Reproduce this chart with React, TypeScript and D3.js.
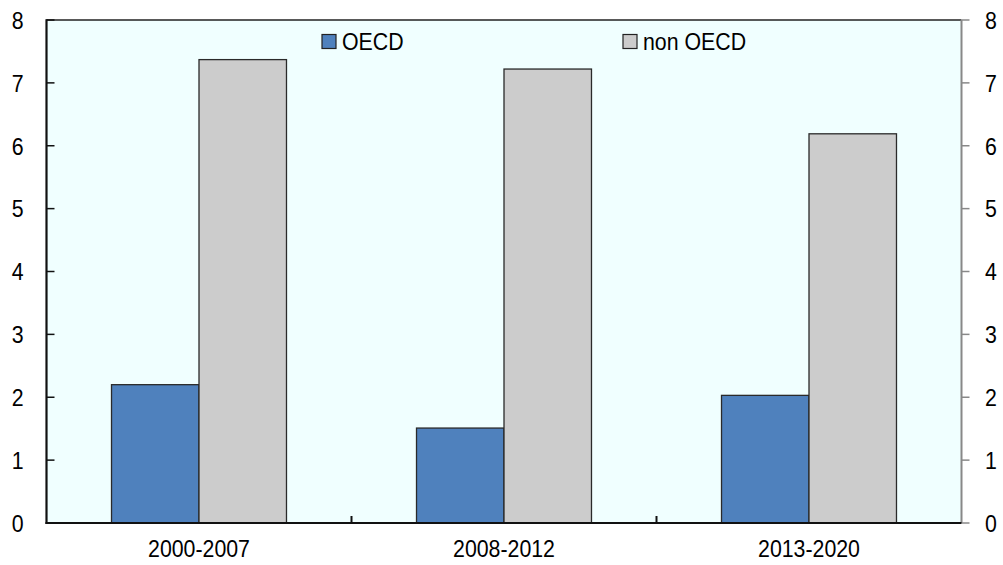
import React from "react";
import * as d3 from "d3";

const categories = ["2000-2007", "2008-2012", "2013-2020"];
const seriesNames = ["OECD", "non OECD"];
const oecd = [2.2, 1.51, 2.03];
const nonOecd = [7.37, 7.22, 6.19];
const yTicks = [0, 1, 2, 3, 4, 5, 6, 7, 8];
const colors = ["#4F81BD", "#CCCCCC"];

const W = 1003;
const H = 565;
const L = 46.5;
const R = 961.5;
const T = 20;
const B = 523;
const FS = 24.5;
const SX = 0.87;
const FONT = "'Liberation Sans', Arial, sans-serif";

export default function App() {
  const x0 = d3.scaleBand<string>().domain(categories).range([L, R]).paddingInner(0).paddingOuter(0);
  const x1 = d3
    .scaleBand<string>()
    .domain(seriesNames)
    .range([0, x0.bandwidth()])
    .paddingInner(0)
    .paddingOuter(0.743);
  const y = d3.scaleLinear().domain([0, 8]).range([B, T]);
  const values = [oecd, nonOecd];

  const legendX = [322, 623];

  const txt = (x: number, yy: number, s: string, anchor: string, key?: string) => (
    <text
      key={key}
      transform={`translate(${x},${yy}) scale(${SX},1)`}
      textAnchor={anchor as any}
      fontSize={FS}
      fontFamily={FONT}
      fill="#000"
    >
      {s}
    </text>
  );

  return (
    <div style={{ position: "fixed", left: 0, top: 0 }}>
      <svg width={W} height={H} style={{ display: "block", background: "#fff" }}>
        <rect x={L} y={T} width={R - L} height={B - T} fill="#F0FFFF" />
        {categories.map((c, ci) =>
          seriesNames.map((s, si) => {
            const v = values[si][ci];
            const bx = (x0(c) as number) + (x1(s) as number);
            return (
              <rect
                key={c + s}
                x={bx}
                y={y(v)}
                width={x1.bandwidth()}
                height={B - y(v)}
                fill={colors[si]}
                stroke="#2a2a2a"
                strokeWidth={1.3}
              />
            );
          })
        )}
        <line x1={L} x2={R} y1={T} y2={T} stroke="#222" strokeWidth={1.5} />
        <line x1={R} x2={R} y1={T} y2={B} stroke="#888" strokeWidth={2} />
        {yTicks.map((t) => (
          <line key={"rt" + t} x1={R} x2={R + 8} y1={y(t)} y2={y(t)} stroke="#888" strokeWidth={1.5} />
        ))}
        <line x1={L} x2={L} y1={T - 0.7} y2={B + 1} stroke="#111" strokeWidth={2.2} />
        {yTicks.map((t) => (
          <line key={"lt" + t} x1={L} x2={L + 8} y1={y(t)} y2={y(t)} stroke="#111" strokeWidth={1.5} />
        ))}
        <line x1={L - 1} x2={R} y1={B} y2={B} stroke="#111" strokeWidth={2.2} />
        {categories.slice(1).map((c) => (
          <line
            key={"xt" + c}
            x1={x0(c) as number}
            x2={x0(c) as number}
            y1={B}
            y2={B - 7}
            stroke="#111"
            strokeWidth={2}
          />
        ))}
        {yTicks.map((t) => txt(23.5, y(t) + 8.8, String(t), "end", "yl" + t))}
        {yTicks.map((t) => txt(985, y(t) + 8.8, String(t), "start", "yr" + t))}
        {categories.map((c) =>
          txt((x0(c) as number) + x0.bandwidth() / 2, 557, c, "middle", "xl" + c)
        )}
        {seriesNames.map((s, i) => (
          <g key={"lg" + s}>
            <rect x={legendX[i]} y={34.5} width={14} height={14} fill={colors[i]} stroke="#222" strokeWidth={1.2} />
            {txt(legendX[i] + 20, 49.5, s, "start")}
          </g>
        ))}
      </svg>
    </div>
  );
}
